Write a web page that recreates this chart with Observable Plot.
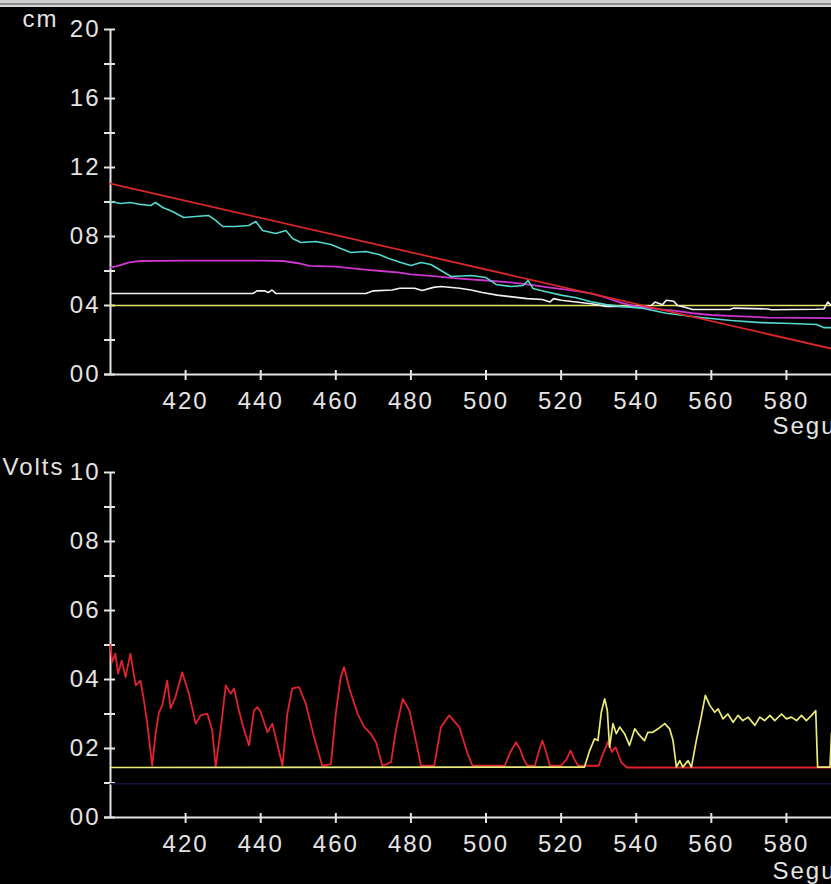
<!DOCTYPE html>
<html>
<head>
<meta charset="utf-8">
<script src="https://cdn.jsdelivr.net/npm/d3@7"></script>
<script src="https://cdn.jsdelivr.net/npm/@observablehq/plot@0.6"></script>
<style>
  html, body { margin: 0; padding: 0; background: #000; overflow: hidden; width: 831px; height: 884px; }
  #wrap { position: relative; width: 831px; height: 884px; }
  #strip { position: absolute; left: 0; top: 0; width: 831px; height: 7px;
           background: linear-gradient(#cfcfcf 0 3px, #8a8a8a 3px 5px, #d6d6d6 5px 7px); z-index: 2; }
  #wrap svg { display: block; }
</style>
</head>
<body>
<div id="wrap"><div id="strip"></div></div>
<script>
// ---- axes ----
const secDomain = [400, 592];
const secTicks = [420, 440, 460, 480, 500, 520, 540, 560, 580];
const cmDomain = [0, 20];
const cmTicks = [0, 2, 4, 6, 8, 10, 12, 14, 16, 18, 20];
const cmLabels = [0, 4, 8, 12, 16, 20];
const voltDomain = [0, 10];
const voltTicks = [0, 1, 2, 3, 4, 5, 6, 7, 8, 9, 10];
const voltLabels = [0, 2, 4, 6, 8, 10];

// ---- top panel series (cm) ----
const redT = [400, 592];
const redV = [11.07, 1.5];
const cyanT = [400, 402.7, 405.3, 408, 410.7, 412, 413.9, 416.5, 419.5, 422.7, 426.1, 428, 429.9, 433.3, 436.8, 438.7, 440.5, 444, 446.7, 448.5, 450.7, 454.7, 458.7, 461.3, 464, 468, 471.5, 474.1, 477.3, 480, 482.7, 485.3, 488, 490.7, 496, 500, 502.7, 506.7, 509.9, 511.2, 512.5, 516, 520, 524, 528, 532, 536, 541.3, 548, 557.3, 565.3, 573.3, 581.3, 588, 589.9, 592.3, 600];
const cyanV = [10.03, 9.91, 9.97, 9.86, 9.8, 9.97, 9.68, 9.45, 9.1, 9.16, 9.22, 8.93, 8.58, 8.58, 8.64, 8.87, 8.35, 8.17, 8.35, 7.88, 7.65, 7.71, 7.54, 7.3, 7.07, 7.13, 6.96, 6.72, 6.49, 6.32, 6.49, 6.38, 6.03, 5.68, 5.74, 5.62, 5.22, 5.1, 5.16, 5.45, 4.99, 4.8, 4.6, 4.45, 4.22, 4.05, 3.95, 3.85, 3.55, 3.3, 3.13, 3.01, 2.96, 2.9, 2.72, 2.72, 2.65];
const magentaT = [400, 402, 405, 408, 420, 440, 446, 450, 453, 460, 467, 472, 477, 480, 486, 493, 500, 507, 512, 517, 522, 528, 532, 536, 540, 545, 550, 555, 560, 565, 575, 585, 592, 600];
const magentaV = [6.2, 6.3, 6.5, 6.58, 6.6, 6.6, 6.58, 6.45, 6.3, 6.25, 6.1, 6.0, 5.9, 5.8, 5.7, 5.56, 5.45, 5.33, 5.2, 5.04, 4.9, 4.7, 4.45, 4.15, 3.95, 3.8, 3.7, 3.55, 3.45, 3.4, 3.3, 3.28, 3.27, 3.25];
const whiteT = [400, 438, 439, 441, 442, 443, 444, 468, 470, 475, 477, 481, 483, 486, 488, 493, 496, 499, 503, 507, 511, 515, 517, 518, 520, 524, 528, 532, 540, 544, 545, 547, 548, 550, 551, 553, 555, 565, 566, 575, 576, 588, 590, 591, 592, 600];
const whiteV = [4.7, 4.7, 4.85, 4.85, 4.75, 4.9, 4.7, 4.7, 4.85, 4.9, 5.0, 5.0, 4.87, 5.05, 5.1, 5.0, 4.9, 4.75, 4.6, 4.5, 4.4, 4.35, 4.2, 4.4, 4.3, 4.2, 4.1, 3.95, 3.94, 4.0, 4.2, 4.05, 4.3, 4.25, 4.0, 3.9, 3.77, 3.77, 3.85, 3.8, 3.75, 3.78, 3.8, 4.2, 4.0, 3.9];
const yellowT = [400, 600];
const yellowV = [4.0, 4.0];

// ---- bottom panel series (Volts) ----
const voltRedT = [400, 400.4, 401.3, 402, 403, 404, 405.3, 406.7, 408, 408.9, 409.8, 411.1, 412, 412.9, 413.8, 415.1, 416, 417.3, 419.1, 420.9, 422.7, 424, 425.8, 427.1, 428, 429.3, 430.7, 432, 432.9, 434.2, 435.6, 436.9, 438.2, 439.1, 440, 440.9, 441.8, 443.1, 444.4, 445.8, 447.1, 448.4, 450.2, 452, 454.2, 456.4, 458.7, 460, 461.3, 462.2, 463.6, 465.8, 467.6, 469.3, 470.7, 472.4, 474.7, 476, 477.8, 479.6, 481.3, 482.7, 486.2, 488, 490.2, 492.9, 495.1, 496.4, 505, 506.5, 508, 509, 510, 511, 513, 514, 515, 516, 517, 520, 521.5, 522.5, 523.5, 524.5, 530, 531, 532.5, 533.5, 534.5, 536, 537.5, 600];
const voltRedV = [5.0, 4.5, 4.75, 4.17, 4.55, 4.07, 4.75, 3.83, 3.97, 3.39, 2.72, 1.5, 2.43, 3.05, 3.25, 3.97, 3.16, 3.49, 4.21, 3.58, 2.72, 2.96, 3.01, 2.52, 1.46, 2.52, 3.83, 3.59, 3.74, 3.1, 2.52, 2.09, 3.1, 3.2, 3.05, 2.76, 2.47, 2.72, 2.14, 1.5, 3.01, 3.74, 3.78, 3.3, 2.33, 1.5, 1.55, 3.01, 4.07, 4.36, 3.74, 3.01, 2.62, 2.43, 2.18, 1.5, 1.6, 2.52, 3.44, 3.1, 2.23, 1.5, 1.5, 2.62, 2.96, 2.62, 1.85, 1.5, 1.5, 1.9, 2.18, 2.0, 1.7, 1.5, 1.5, 1.9, 2.23, 1.9, 1.5, 1.5, 1.7, 1.94, 1.7, 1.5, 1.5, 1.8, 2.2, 1.9, 2.04, 1.6, 1.45, 1.45];
const voltYelT = [400, 526.2, 527.6, 528.9, 529.8, 530.7, 531.6, 532.3, 532.9, 533.8, 534.7, 535.6, 536.9, 538.2, 539.6, 540.9, 542.2, 543.1, 544.4, 545.8, 547.6, 548.9, 549.8, 550.7, 551.6, 552.4, 553.8, 554.7, 556, 557.3, 558.4, 559.6, 560.9, 561.8, 563.1, 564.4, 565.8, 567.1, 568.4, 569.8, 571.6, 572.9, 574.2, 575.6, 576.9, 578.7, 580, 581.3, 582.7, 584, 585.3, 586.7, 587.8, 588.3, 591.6, 592, 593];
const voltYelV = [1.45, 1.46, 1.94, 2.28, 2.23, 3.05, 3.44, 3.1, 2.04, 2.72, 2.43, 2.62, 2.43, 2.09, 2.57, 2.38, 2.23, 2.47, 2.47, 2.57, 2.72, 2.57, 2.23, 1.46, 1.65, 1.46, 1.65, 1.46, 2.23, 2.91, 3.54, 3.25, 3.05, 3.15, 2.86, 3.0, 2.76, 2.96, 2.81, 2.91, 2.67, 2.91, 2.81, 2.96, 2.81, 3.0, 2.86, 2.91, 2.81, 2.96, 2.81, 2.96, 3.1, 1.46, 1.46, 2.43, 3.0];
const voltBlueT = [400, 600];
const voltBlueV = [0.98, 0.98];

const AX = "#e4e4e4";
const FONT = "'Liberation Sans', Arial, sans-serif";
const pts = (T, V) => T.map((t, i) => ({t, v: V[i]}));
const pad2 = d => String(d).padStart(2, "0");

function axes(domainY, ticks, labels) {
  return [
    Plot.ruleY([domainY[0]], {stroke: AX, strokeWidth: 2, insetLeft: -6}),
    Plot.ruleX([secDomain[0]], {y1: domainY[0], y2: domainY[1], stroke: AX, strokeWidth: 2}),
    Plot.axisY(ticks, {tickSize: 11, dx: 5, strokeWidth: 2, stroke: AX, tickFormat: () => "", label: null}),
    Plot.axisY(labels, {tickSize: 0, tickPadding: 10, tickFormat: pad2, fill: AX, label: null}),
    Plot.axisX(secTicks, {tickSize: 10, dy: -4, strokeWidth: 2, stroke: AX, tickFormat: () => "", label: null}),
    Plot.axisX(secTicks, {tickSize: 0, tickPadding: 17, fill: AX, label: null})
  ];
}

const baseStyle = {background: "#000", color: AX, fontFamily: FONT, fontSize: "24px", letterSpacing: "2px", overflow: "hidden"};

const topChart = Plot.plot({
  width: 831, height: 442,
  marginLeft: 110, marginRight: 0, marginTop: 29, marginBottom: 68,
  x: {domain: secDomain, label: null},
  y: {domain: cmDomain, label: null},
  style: baseStyle,
  marks: [
    ...axes(cmDomain, cmTicks, cmLabels),
    Plot.line(pts(yellowT, yellowV), {x: "t", y: "v", stroke: "#e6e26a", strokeWidth: 1.6}),
    Plot.line(pts(whiteT, whiteV), {x: "t", y: "v", stroke: "#f2f2f2", strokeWidth: 1.6}),
    Plot.line(pts(magentaT, magentaV), {x: "t", y: "v", stroke: "#cc36cc", strokeWidth: 1.8}),
    Plot.line(pts(cyanT, cyanV), {x: "t", y: "v", stroke: "#55d8cc", strokeWidth: 1.6}),
    Plot.line(pts(redT, redV), {x: "t", y: "v", stroke: "#d82828", strokeWidth: 1.8}),
    Plot.text(["cm"], {frameAnchor: "top-left", dx: -88, dy: -9.7, textAnchor: "start", lineAnchor: "middle", fill: AX, fontSize: 24}),
    Plot.text(["Segundos"], {frameAnchor: "bottom-left", dx: 662, dy: 52.3, textAnchor: "start", lineAnchor: "middle", fill: AX, fontSize: 24})
  ]
});

const bottomChart = Plot.plot({
  width: 831, height: 442,
  marginLeft: 110, marginRight: 0, marginTop: 30, marginBottom: 67,
  x: {domain: secDomain, label: null},
  y: {domain: voltDomain, label: null},
  style: baseStyle,
  marks: [
    ...axes(voltDomain, voltTicks, voltLabels),
    Plot.line(pts(voltBlueT, voltBlueV), {x: "t", y: "v", stroke: "#14143e", strokeWidth: 1.5}),
    Plot.line(pts(voltRedT, voltRedV), {x: "t", y: "v", stroke: "#e2222e", strokeWidth: 1.8}),
    Plot.line(pts(voltYelT, voltYelV), {x: "t", y: "v", stroke: "#ecea78", strokeWidth: 1.7}),
    Plot.text(["Volts"], {frameAnchor: "top-left", dx: -108, dy: -4.7, textAnchor: "start", lineAnchor: "middle", fill: AX, fontSize: 24}),
    Plot.text(["Segundos"], {frameAnchor: "bottom-left", dx: 662, dy: 54.3, textAnchor: "start", lineAnchor: "middle", fill: AX, fontSize: 24})
  ]
});

const wrap = document.getElementById("wrap");
wrap.appendChild(topChart);
wrap.appendChild(bottomChart);
</script>
</body>
</html>
